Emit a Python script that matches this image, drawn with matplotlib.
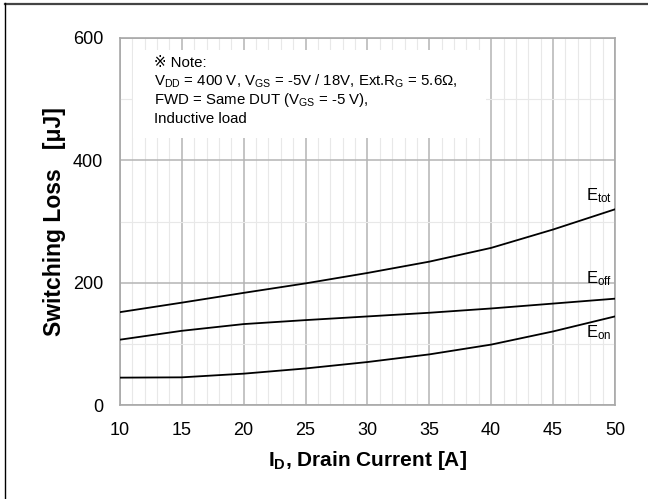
import matplotlib.pyplot as plt
from matplotlib.lines import Line2D
from matplotlib.patches import Rectangle
from matplotlib.ticker import MultipleLocator

plt.rcParams['font.family'] = ['Liberation Sans', 'DejaVu Sans']
plt.rcParams['mathtext.fontset'] = 'custom'
plt.rcParams['mathtext.rm'] = 'Liberation Sans'
plt.rcParams['mathtext.it'] = 'Liberation Sans:italic'
plt.rcParams['mathtext.bf'] = 'Liberation Sans:bold'

# drain current [A]
current = [10, 15, 20, 25, 30, 35, 40, 45, 50]
# switching losses [uJ]
e_tot = [152, 167.5, 183.5, 199, 216, 234.5, 257, 287, 320]
e_off = [107, 121.5, 132.5, 139, 145, 151, 158, 166, 174]
e_on = [45, 45.5, 51.5, 60, 70.5, 83, 99, 120.5, 145]

x_ticks = [10, 15, 20, 25, 30, 35, 40, 45, 50]
y_ticks = [0, 200, 400, 600]

note_lines = [
    "\u203b Note:",
    r"V$_{\mathregular{DD}}$ = 400 V, V$_{\mathregular{GS}}$ = -5V / 18V, Ext.R$_{\mathregular{G}}$ = 5.6Ω,",
    r"FWD = Same DUT (V$_{\mathregular{GS}}$ = -5 V),",
    "Inductive load",
]

fig = plt.figure(figsize=(6.48, 4.99), dpi=100)
ax = fig.add_axes([0.185, 0.188, 0.764, 0.736])

ax.set_xlim(10, 50)
ax.set_ylim(0, 600)
ax.set_xticks(x_ticks)
ax.set_yticks(y_ticks)
ax.xaxis.set_minor_locator(MultipleLocator(1))
ax.yaxis.set_minor_locator(MultipleLocator(100))
ax.grid(which='major', color='#b4b4b4', linewidth=1.1)
ax.grid(which='minor', color='#e8e8e8', linewidth=0.8)
ax.set_axisbelow(True)
ax.tick_params(which='both', length=0, labelsize=13)
ax.tick_params(axis='x', pad=12)
ax.tick_params(axis='y', pad=12)
for sp in ax.spines.values():
    sp.set_color('#a8a8a8')
    sp.set_linewidth(1.2)

# white box that hides the grid behind the note
ax.add_patch(Rectangle((0.026, 0.728), 0.714, 0.239, transform=ax.transAxes,
                       facecolor='white', edgecolor='none', zorder=1.5))

for ys in (e_tot, e_off, e_on):
    ax.plot(current, ys, color='black', linewidth=1.3, zorder=3)

ax.text(47.65, 342, r"E$_{\mathregular{tot}}$", fontsize=12, va='center', zorder=4)
ax.text(47.65, 206, r"E$_{\mathregular{off}}$", fontsize=12, va='center', zorder=4)
ax.text(47.65, 118, r"E$_{\mathregular{on}}$", fontsize=12, va='center', zorder=4)

for i, line in enumerate(note_lines):
    ax.text(0.068, 0.932 - i * 0.0505, line, transform=ax.transAxes,
            fontsize=10.8, va='center', zorder=4)

ax.set_xlabel(r"$\mathbf{I_D}$, Drain Current [A]", fontsize=15, fontweight='bold', labelpad=7)
ax.set_ylabel("Switching Loss   [\u03bcJ]", fontsize=16.5, fontweight='bold', labelpad=5)

# outer frame lines (top and left)
fig.add_artist(Line2D([5 / 648, 1], [1 - 4 / 499, 1 - 4 / 499], color='#444444', linewidth=1.6))
fig.add_artist(Line2D([5 / 648, 5 / 648], [0, 1 - 3 / 499], color='black', linewidth=1.0))

fig.savefig("out.png", dpi=100)
